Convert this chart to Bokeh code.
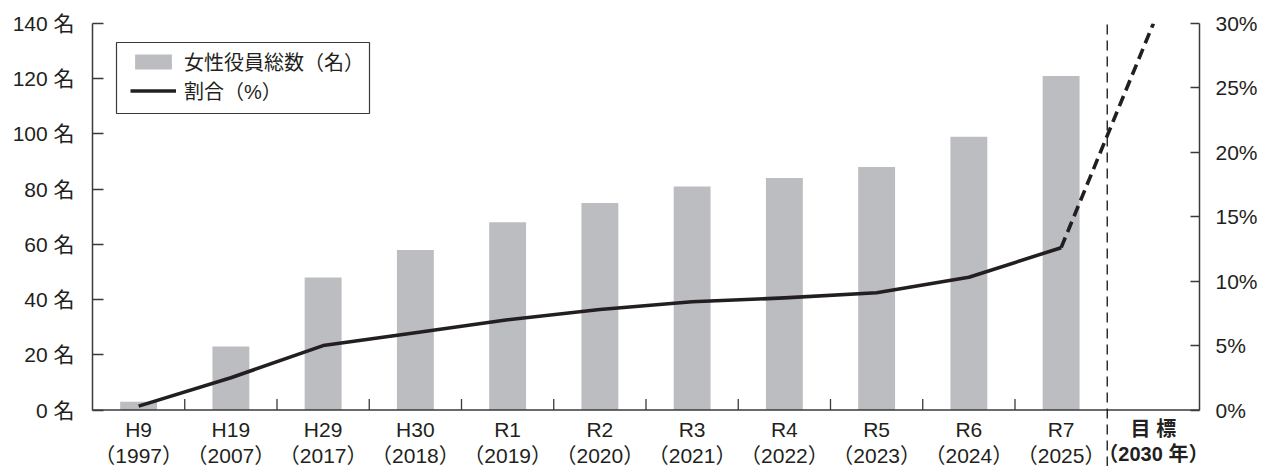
from bokeh.plotting import figure
from bokeh.models import Range1d, LinearAxis, FixedTicker, Legend, LegendItem, BoxAnnotation
from bokeh.core.properties import value
from bokeh.embed import file_html
from bokeh.resources import INLINE

# ---- data ----
categories = ["H9", "H19", "H29", "H30", "R1", "R2", "R3", "R4", "R5", "R6", "R7"]
years = ["1997", "2007", "2017", "2018", "2019", "2020", "2021", "2022", "2023", "2024", "2025"]
officers = [3, 23, 48, 58, 68, 75, 81, 84, 88, 99, 121]
ratio = [0.3, 2.5, 5.0, 6.0, 7.0, 7.8, 8.4, 8.7, 9.1, 10.3, 12.6]
target_label = "目 標"
target_year = "（2030 年）"
target_ratio = 30.0
left_ticks = [0, 20, 40, 60, 80, 100, 120, 140]
right_ticks = [0, 5, 10, 15, 20, 25, 30]
legend_bar = "女性役員総数（名）"
legend_line = "割合（%）"

FONT = "Liberation Sans, Noto Sans CJK JP"
TXT = "#231f20"
AX = "#3a3a3a"
BAR = "#bcbdc0"

W, H = 1266, 466
LEFT, RIGHT, TOP = 92, 67, 23
ZERO_Y = 409.5                       # screen y of the zero line
y_max = left_ticks[-1]
p_max = right_ticks[-1]
px_per_unit = (ZERO_Y - TOP) / y_max
y_lo = -(H - ZERO_Y) / px_per_unit   # room for the category labels inside the frame
p_lo = y_lo * p_max / y_max

n = len(categories) + 1
xs = [i + 0.5 for i in range(len(categories))]
x_target = len(categories) + 0.5
x_sep = len(categories)
bounds = list(range(1, len(categories)))

p = figure(width=W, height=H, x_range=Range1d(0, n), y_range=Range1d(y_lo, y_max),
           output_backend="svg", toolbar_location=None,
           min_border_left=LEFT, min_border_right=RIGHT, min_border_top=TOP,
           min_border_bottom=0, x_axis_location=None, y_axis_location=None)
p.outline_line_color = None
p.xgrid.visible = False
p.ygrid.visible = False
p.extra_y_ranges = {"pct": Range1d(p_lo, p_max)}

def style_axis(ax, tick_in, standoff):
    ax.major_tick_in = tick_in
    ax.major_tick_out = 0
    ax.minor_tick_line_color = None
    ax.major_tick_line_color = AX
    ax.major_tick_line_width = 1.3
    ax.axis_line_color = AX
    ax.axis_line_width = 1.5
    ax.major_label_standoff = standoff
    ax.major_label_text_font = FONT
    ax.major_label_text_font_size = "21px"
    ax.major_label_text_color = TXT

yaxis = LinearAxis(ticker=FixedTicker(ticks=left_ticks), bounds=(0, y_max))
yaxis.major_label_overrides = {v: f"{v} 名" for v in left_ticks}
style_axis(yaxis, 11, 18)
p.add_layout(yaxis, "left")

raxis = LinearAxis(y_range_name="pct", ticker=FixedTicker(ticks=right_ticks), bounds=(0, p_max))
raxis.major_label_overrides = {v: f"{v}%" for v in right_ticks}
style_axis(raxis, 9, 16)
p.add_layout(raxis, "right")

# bars and lines
bars = p.vbar(x=xs, top=officers, width=0.4, fill_color=BAR, line_color=None)
line = p.line(x=xs, y=ratio, y_range_name="pct", line_width=3.6, line_color=TXT,
              line_join="round")
p.line(x=[xs[-1], x_target], y=[ratio[-1], target_ratio], y_range_name="pct",
       line_width=3.6, line_color=TXT, line_dash="11 6")

# category axis drawn along the zero line
tick_len = 11 / px_per_unit
p.line(x=[0, n], y=[0, 0], line_color=AX, line_width=1.5)
p.segment(x0=bounds, y0=[0] * len(bounds), x1=bounds, y1=[tick_len] * len(bounds),
          line_color=AX, line_width=1.3)
p.text(x=xs, y=[0] * len(xs), text=[f"{c}\n（{y}）" for c, y in zip(categories, years)],
       y_offset=8, text_align="center", text_baseline="top", text_line_height=1.15,
       text_font=value(FONT), text_font_size="21px", text_color=TXT)
p.text(x=[x_target], y=[0], text=[f"{target_label}\n{target_year}"],
       y_offset=8, text_align="center", text_baseline="top", text_line_height=1.15,
       text_font=value(FONT), text_font_size="20px", text_font_style="bold", text_color=TXT)

# separator between actual values and target
p.line(x=[x_sep, x_sep], y=[y_lo, y_max], line_color=TXT, line_width=1.4, line_dash="10 6")

# legend (items) and its frame
legend = Legend(items=[LegendItem(label=legend_bar, renderers=[bars]),
                       LegendItem(label=legend_line, renderers=[line])],
                location=(38, H - 105), border_line_color=None,
                background_fill_alpha=0, padding=0, spacing=0,
                glyph_width=46, glyph_height=19, label_standoff=8, margin=0,
                label_text_font=FONT, label_text_font_size="20px",
                label_text_color=TXT)
p.add_layout(legend)
p.add_layout(BoxAnnotation(left=24, right=277, bottom=H - 113, top=H - 42,
                           left_units="screen", right_units="screen",
                           bottom_units="screen", top_units="screen",
                           fill_color=None, line_color=AX, line_width=1.2, line_alpha=1))

open("out.html", "w").write(file_html(p, INLINE))
